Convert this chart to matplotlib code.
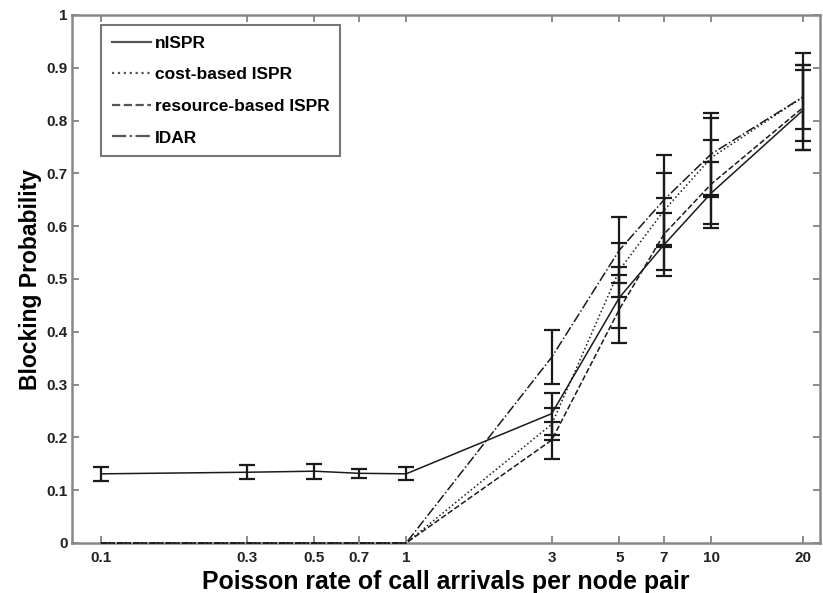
import matplotlib
matplotlib.use("Agg")
import matplotlib.pyplot as plt
from matplotlib.lines import Line2D
from matplotlib.ticker import FixedLocator, FixedFormatter, NullLocator

plt.rcParams['font.family'] = ['Liberation Sans', 'DejaVu Sans']
plt.rcParams['font.weight'] = 'bold'

# Call arrival rates (per node pair)
rates = [0.1, 0.3, 0.5, 0.7, 1, 3, 5, 7, 10, 20]
rate_labels = ['0.1', '0.3', '0.5', '0.7', '1', '3', '5', '7', '10', '20']

# Mean blocking probability and error-bar half widths per scheme
nispr = [0.131, 0.134, 0.136, 0.132, 0.131, 0.245, 0.465, 0.565, 0.663, 0.820]
nispr_err = [0.013, 0.013, 0.014, 0.009, 0.012, 0.040, 0.058, 0.060, 0.058, 0.076]

cost_ispr = [0, 0, 0, 0, 0, 0.225, 0.517, 0.630, 0.730, 0.845]
cost_err = [0, 0, 0, 0, 0, 0.030, 0.051, 0.070, 0.075, 0.060]

res_ispr = [0, 0, 0, 0, 0, 0.195, 0.443, 0.585, 0.680, 0.825]
res_err = [0, 0, 0, 0, 0, 0.035, 0.065, 0.068, 0.083, 0.080]

idar = [0, 0, 0, 0, 0, 0.352, 0.555, 0.650, 0.737, 0.845]
idar_err = [0, 0, 0, 0, 0, 0.051, 0.062, 0.085, 0.077, 0.083]

series = [
    ('nISPR', nispr, nispr_err, '-'),
    ('cost-based ISPR', cost_ispr, cost_err, ':'),
    ('resource-based ISPR', res_ispr, res_err, '--'),
    ('IDAR', idar, idar_err, '-.'),
]

W, H = 823, 593
fig = plt.figure(figsize=(W / 100, H / 100), dpi=100)
ax = fig.add_axes([72 / W, (H - 543) / H, (820 - 72) / W, (543 - 15) / H])

line_color = '#1a1a1a'
for name, vals, errs, ls in series:
    ax.plot(rates, vals, linestyle=ls, color=line_color, lw=1.1, zorder=3,
            clip_on=False)
    pts = [(r, v, e) for r, v, e in zip(rates, vals, errs) if e > 0]
    ax.errorbar([p[0] for p in pts], [p[1] for p in pts],
                yerr=[p[2] for p in pts], fmt='none', ecolor='#1a1a1a',
                elinewidth=1.6, capsize=5.5, capthick=1.6, zorder=4)

ax.set_xscale('log')
ax.set_xlim(0.0804, 22.7)
ax.set_ylim(0, 1)

ax.xaxis.set_major_locator(FixedLocator(rates))
ax.xaxis.set_major_formatter(FixedFormatter(rate_labels))
ax.xaxis.set_minor_locator(NullLocator())
yt = [i / 10 for i in range(11)]
ax.set_yticks(yt)
ax.set_yticklabels(['0'] + [f'{v:.1f}' for v in yt[1:10]] + ['1'])

ax.tick_params(axis='both', which='major', direction='in', length=5,
               width=1.2, color='#777777', labelsize=11, top=True,
               right=True)
ax.tick_params(axis='x', pad=6)
ax.tick_params(axis='y', pad=3)
for lab in ax.get_xticklabels() + ax.get_yticklabels():
    lab.set_fontweight('bold')
    lab.set_color('#222222')

for sp in ax.spines.values():
    sp.set_color('#888888')
    sp.set_linewidth(1.8)

ax.set_xlabel('Poisson rate of call arrivals per node pair', fontsize=17.9,
              fontweight='bold', labelpad=3)
ax.set_ylabel('Blocking Probability', fontsize=16.5, fontweight='bold',
              labelpad=3)

handles = [Line2D([], [], color='#555555', lw=1.6, linestyle=ls)
           for _, _, _, ls in series]
leg = ax.legend(handles, [s[0] for s in series], loc='upper left',
                bbox_to_anchor=(0.039, 0.981), fancybox=False,
                edgecolor='#777777', framealpha=1,
                prop={'weight': 'bold', 'size': 12.5}, handlelength=2.25,
                handletextpad=0.25, labelspacing=0.95, borderpad=0.6,
                borderaxespad=0)
leg.get_frame().set_linewidth(1.5)

fig.savefig('out.png', dpi=100)
